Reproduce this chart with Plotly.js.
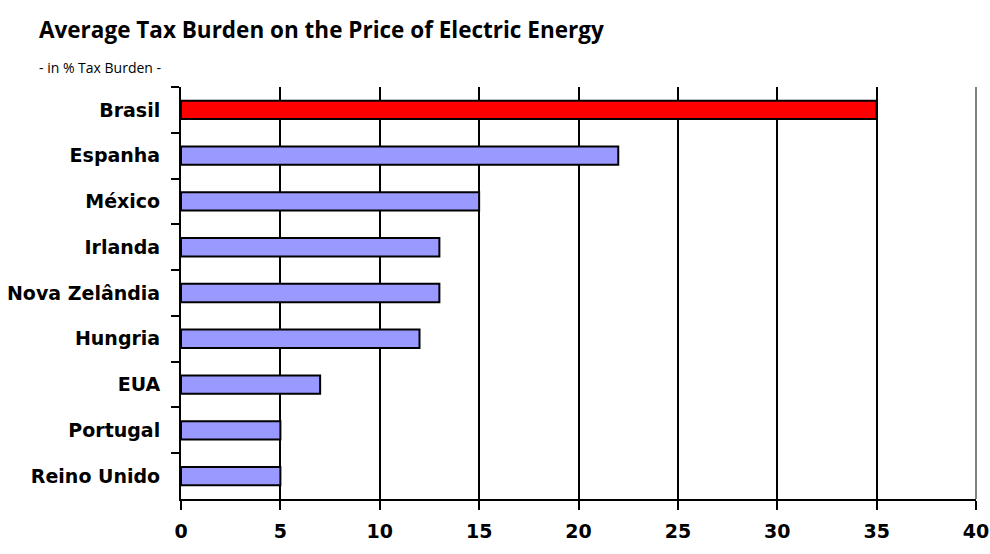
<!DOCTYPE html>
<html>
<head>
<meta charset="utf-8">
<script src="https://cdn.plot.ly/plotly-3.0.1.min.js"></script>
<style>html,body{margin:0;padding:0;background:#fff;}#chart{width:990px;height:554px;}</style>
</head>
<body>
<div id="chart"></div>
<script>
const categories = ["Brasil", "Espanha", "México", "Irlanda", "Nova Zelândia", "Hungria", "EUA", "Portugal", "Reino Unido"];
const taxBurden = [35, 22, 15, 13, 13, 12, 7, 5, 5];
const barColors = ["#FF0000", "#9999FF", "#9999FF", "#9999FF", "#9999FF", "#9999FF", "#9999FF", "#9999FF", "#9999FF"];
const xTicks = [0, 5, 10, 15, 20, 25, 30, 35, 40];

const labelFont = {family: "DejaVu Sans, sans-serif", size: 19, color: "#000", weight: 700};

const trace = {
  type: "bar",
  orientation: "h",
  y: categories,
  x: taxBurden,
  width: 0.4,
  marker: {color: barColors, line: {color: "#000", width: 2}},
  hoverinfo: "x+y"
};

const layout = {
  width: 990, height: 554,
  margin: {l: 181, r: 14, t: 87, b: 55},
  paper_bgcolor: "#fff", plot_bgcolor: "#fff",
  showlegend: false,
  font: {family: "DejaVu Sans, sans-serif", color: "#000"},
  xaxis: {
    range: [0, 40], tickvals: xTicks, ticktext: xTicks.map(String),
    showgrid: true, gridcolor: "#000", gridwidth: 2,
    zeroline: false, showline: true, linecolor: "#000", linewidth: 2,
    ticks: "outside", ticklen: 9, tickwidth: 2, tickcolor: "#000",
    ticklabelstandoff: 5,
    tickfont: {family: "DejaVu Sans, sans-serif", size: 19, color: "#000", weight: 700},
    fixedrange: true
  },
  yaxis: {
    type: "category", autorange: "reversed",
    showgrid: false, zeroline: false, showline: true, linecolor: "#000", linewidth: 2,
    ticks: "outside", tickson: "boundaries", ticklen: 8, tickwidth: 2, tickcolor: "#000",
    ticklabelstandoff: 15,
    tickfont: labelFont,
    fixedrange: true
  },
  shapes: [
    {type: "line", xref: "paper", yref: "paper", x0: 1, x1: 1, y0: 0, y1: 1, line: {color: "#808080", width: 2}, layer: "above"}
  ],
  annotations: [
    {text: "<b>Average Tax Burden on the Price of Electric Energy</b>", xref: "paper", yref: "paper", x: (37 - 181)/795, y: 1 + 58/412, xanchor: "left", yanchor: "middle", showarrow: false, font: {family: "Open Sans, sans-serif", size: 22.5, color: "#000"}},
    {text: "- in % Tax Burden -", xref: "paper", yref: "paper", x: (37 - 181)/795, y: 1 + 19/412, xanchor: "left", yanchor: "middle", showarrow: false, font: {family: "Open Sans, sans-serif", size: 14, color: "#000"}}
  ]
};

Plotly.newPlot("chart", [trace], layout, {displayModeBar: false, staticPlot: true});
</script>
</body>
</html>
